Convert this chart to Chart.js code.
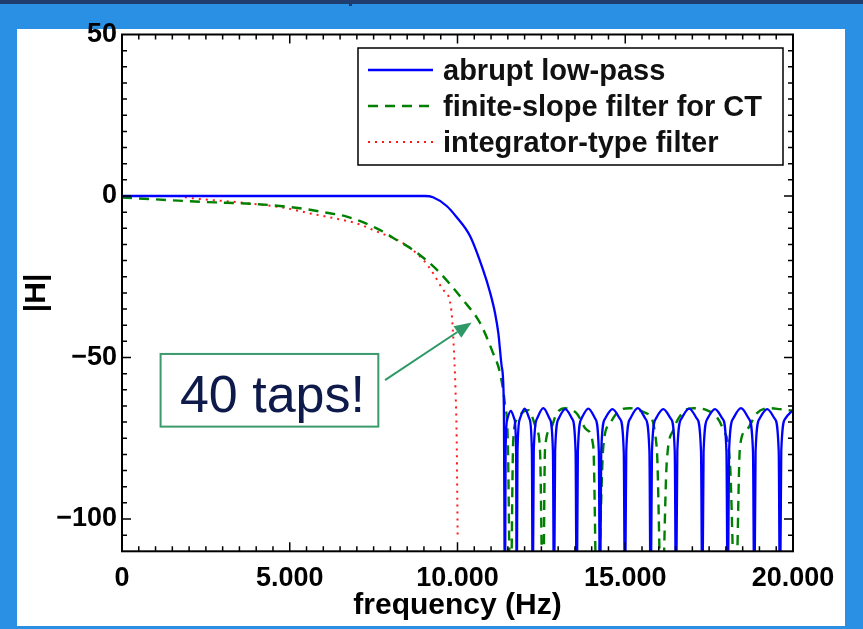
<!DOCTYPE html>
<html>
<head>
<meta charset="utf-8">
<title>|H| vs frequency</title>
<script src="https://cdn.jsdelivr.net/npm/chart.js@4.4.1/dist/chart.umd.min.js"></script>
<style>
  html, body { margin: 0; padding: 0; }
  body { width: 863px; height: 629px; background: #2990e3; position: relative; overflow: hidden; }
  #topbar { position: absolute; left: 0; top: 0; width: 863px; height: 4px; background: #1f3d6e; }
  #notch { position: absolute; left: 349px; top: 0; width: 3px; height: 6px; background: #1f3d6e; }
  #panel { position: absolute; left: 17px; top: 29px; width: 828px; height: 597px; background: #fff; }
  #plot { position: absolute; left: 0; top: 0; }
</style>
</head>
<body>
<div id="topbar"></div>
<div id="notch"></div>
<div id="panel"></div>
<canvas id="plot" width="863" height="629"></canvas>
<script>
// tick labels
const xTicks = [0, 5000, 10000, 15000, 20000];
const xTickLabels = ['0', '5.000', '10.000', '15.000', '20.000'];
const yTicks = [-100, -50, 0, 50];
const yTickLabels = ['\u2212100', '\u221250', '0', '50'];

// abrupt low-pass (Hz, dB), nulls go below the axis
const fAbrupt = [0, 9031, 9270, 9678, 9976, 10373, 10760, 10969, 11118, 11218, 11318, 11380, 11416,
  11433, 11486, 11590, 11694, 11747, 11764,
  11788, 11859, 12002, 12145, 12217, 12241,
  12273, 12368, 12558, 12749, 12844, 12876,
  12910, 13011, 13214, 13418, 13519, 13553,
  13588, 13692, 13900, 14108, 14212, 14247,
  14284, 14396, 14620, 14843, 14955, 14992,
  15030, 15145, 15375, 15605, 15720, 15758,
  15796, 15909, 16135, 16362, 16475, 16513,
  16552, 16670, 16905, 17140, 17258, 17297,
  17335, 17448, 17675, 17903, 18016, 18054,
  18094, 18213, 18450, 18688, 18807, 18847,
  18885, 19000, 19230, 19459, 19574, 19612,
  19650, 19765, 20000];
const hAbrupt = [0, 0, -0.4, -3.1, -6.6, -12.4, -22.8, -29.8, -36.2, -42.5, -52.8, -64, -130,
  -79, -69, -66.5, -69, -79, -130,
  -79, -69, -65.8, -69, -79, -130,
  -79, -69, -65.7, -69, -79, -130,
  -79, -69, -66, -69, -79, -130,
  -79, -69, -65.8, -69, -79, -130,
  -79, -69, -66, -69, -79, -130,
  -79, -69, -65.7, -69, -79, -130,
  -79, -69, -66, -69, -79, -130,
  -79, -69, -65.8, -69, -79, -130,
  -79, -69, -66, -69, -79, -130,
  -79, -69, -65.7, -69, -79, -130,
  -79, -69, -66, -69, -79, -130,
  -79, -69, -66.3];

// finite-slope filter for CT
const fFinite = [0, 933, 2325, 3121, 3815, 4510, 5305, 5952, 6697, 7592, 8188, 8674, 9389, 10164,
  10671, 11058, 11267, 11416, 11500, 11580, 11660, 11764, 12110, 12360, 12459, 12548, 12608,
  12757, 12956, 13204, 13553, 13851, 14048, 14157, 14346, 14545, 14843, 15141, 15639, 15937,
  16086, 16235, 16433, 16730, 17029, 17427, 17922, 18122, 18284, 18420, 18620, 18918, 19314,
  19612, 20000];
const hFinite = [-0.5, -1.0, -1.8, -2.1, -2.4, -2.9, -3.8, -4.9, -6.4, -10, -13.6, -16.7, -22.9, -32.2,
  -39.3, -48.6, -54.8, -64.7, -76, -130, -76, -69.3, -66.3, -72.4, -78.6, -130, -78.6,
  -72.4, -67.3, -65.7, -67.3, -72.4, -77.6, -130, -77.6, -70.4, -66.3, -65.7, -67.3, -77.6,
  -130, -82.8, -72.4, -66.8, -65.7, -66.3, -72.4, -82.8, -130, -77.6, -72.4, -67.3, -65.7,
  -66, -66.5];

// integrator-type filter
const fInteg = [0, 1630, 2027, 3607, 4909, 5604, 6289, 6996, 7592, 8376, 8981, 9279, 9568,
  9800, 9880, 9940, 9975, 9995, 10005];
const hInteg = [0, 0, -0.6, -2.1, -3.8, -5.4, -6.8, -8.5, -11, -14.6, -19.8, -24, -29,
  -34, -45, -60, -75, -95, -106];

const pts = (xs, ys) => xs.map((v, i) => ({ x: v, y: ys[i] }));

const FONT = '"Liberation Sans", Arial, Helvetica, sans-serif';

// inward ticks on all four sides + box frame
const boxTicks = {
  id: 'boxTicks',
  afterDraw(chart) {
    const { ctx, chartArea: a, scales: { x, y } } = chart;
    ctx.save();
    ctx.strokeStyle = '#000';
    ctx.lineWidth = 1.5;
    ctx.beginPath();
    for (let v = 500; v < 20000; v += 500) {
      const px = x.getPixelForValue(v);
      const len = v % 5000 === 0 ? 9 : 5;
      ctx.moveTo(px, a.bottom); ctx.lineTo(px, a.bottom - len);
      ctx.moveTo(px, a.top); ctx.lineTo(px, a.top + len);
    }
    for (let v = -105; v < 50; v += 5) {
      const py = y.getPixelForValue(v);
      const len = v % 50 === 0 ? 9 : 5;
      ctx.moveTo(a.left, py); ctx.lineTo(a.left + len, py);
      ctx.moveTo(a.right, py); ctx.lineTo(a.right - len, py);
    }
    ctx.stroke();
    ctx.lineWidth = 2;
    ctx.strokeRect(a.left, a.top, a.width, a.height);
    ctx.restore();
  }
};

// boxed legend in the top right corner
const boxLegend = {
  id: 'boxLegend',
  afterDraw(chart) {
    const { ctx, chartArea: a } = chart;
    const w = 425, h = 117;
    const left = a.right - 435, top = a.top + 13.5;
    ctx.save();
    ctx.fillStyle = '#fff';
    ctx.fillRect(left, top, w, h);
    ctx.strokeStyle = '#000';
    ctx.lineWidth = 1.5;
    ctx.strokeRect(left, top, w, h);
    ctx.font = 'bold 29px ' + FONT;
    ctx.textBaseline = 'alphabetic';
    chart.data.datasets.forEach((ds, i) => {
      const base = top + 32 + i * 36;
      ctx.strokeStyle = ds.borderColor;
      ctx.lineWidth = ds.borderWidth;
      ctx.setLineDash(ds.borderDash || []);
      ctx.beginPath();
      ctx.moveTo(left + 10, base - 10);
      ctx.lineTo(left + 75, base - 10);
      ctx.stroke();
      ctx.setLineDash([]);
      ctx.fillStyle = '#111';
      ctx.fillText(ds.label, left + 85, base);
    });
    ctx.restore();
  }
};

// "40 taps!" callout, placed in data units
const callout = {
  id: 'callout',
  afterDraw(chart) {
    const { ctx, scales: { x, y } } = chart;
    const bx0 = x.getPixelForValue(1150), bx1 = x.getPixelForValue(7640);
    const by0 = y.getPixelForValue(-48.9), by1 = y.getPixelForValue(-71.4);
    const tx = x.getPixelForValue(7840), ty = y.getPixelForValue(-57);
    const hx = x.getPixelForValue(10420), hy = y.getPixelForValue(-39.2);
    ctx.save();
    ctx.fillStyle = '#fff';
    ctx.fillRect(bx0, by0, bx1 - bx0, by1 - by0);
    ctx.strokeStyle = '#3a9a6c';
    ctx.lineWidth = 2;
    ctx.strokeRect(bx0, by0, bx1 - bx0, by1 - by0);
    ctx.fillStyle = '#0d1a4a';
    ctx.font = '52px ' + FONT;
    ctx.textAlign = 'center';
    ctx.textBaseline = 'alphabetic';
    ctx.fillText('40 taps!', (bx0 + bx1) / 2 + 3, by1 - 15);
    // arrow
    const ang = Math.atan2(hy - ty, hx - tx);
    const L = 17, W = 7;
    const bxp = hx - L * Math.cos(ang), byp = hy - L * Math.sin(ang);
    ctx.strokeStyle = '#2e9966';
    ctx.fillStyle = '#2e9966';
    ctx.lineWidth = 2;
    ctx.beginPath();
    ctx.moveTo(tx, ty);
    ctx.lineTo(bxp, byp);
    ctx.stroke();
    ctx.beginPath();
    ctx.moveTo(hx, hy);
    ctx.lineTo(bxp + W * Math.sin(ang), byp - W * Math.cos(ang));
    ctx.lineTo(bxp - W * Math.sin(ang), byp + W * Math.cos(ang));
    ctx.closePath();
    ctx.fill();
    ctx.restore();
  }
};

const tickFont = { family: FONT, size: 27, weight: 'bold' };
const titleFont = { family: FONT, size: 30, weight: 'bold' };

new Chart(document.getElementById('plot').getContext('2d'), {
  type: 'line',
  data: {
    datasets: [{
      label: 'abrupt low-pass',
      data: pts(fAbrupt, hAbrupt),
      borderColor: '#0000ff',
      borderWidth: 2.3
    }, {
      label: 'finite-slope filter for CT',
      data: pts(fFinite, hFinite),
      borderColor: '#008000',
      borderWidth: 2.4,
      borderDash: [10, 7]
    }, {
      label: 'integrator-type filter',
      data: pts(fInteg, hInteg),
      borderColor: '#ff1a1a',
      borderWidth: 2,
      borderDash: [2, 5]
    }]
  },
  options: {
    responsive: false,
    animation: false,
    devicePixelRatio: 1,
    layout: { padding: { top: 34.5, right: 70, left: 0, bottom: 0 } },
    elements: {
      point: { radius: 0 },
      line: { cubicInterpolationMode: 'monotone', fill: false }
    },
    plugins: {
      legend: { display: false },
      tooltip: { enabled: false }
    },
    scales: {
      x: {
        type: 'linear',
        min: 0,
        max: 20000,
        grid: { display: false, drawTicks: false },
        border: { display: false },
        afterBuildTicks: s => { s.ticks = xTicks.map(v => ({ value: v })); },
        afterFit: s => { s.height = 77.7; },
        ticks: {
          autoSkip: false,
          maxRotation: 0,
          padding: 11,
          color: '#000',
          font: tickFont,
          callback: (v, i) => xTickLabels[i]
        },
        title: {
          display: true,
          text: 'frequency (Hz)',
          color: '#000',
          font: titleFont,
          padding: { top: 0, bottom: 5 }
        }
      },
      y: {
        min: -110,
        max: 50,
        grid: { display: false, drawTicks: false },
        border: { display: false },
        afterBuildTicks: s => { s.ticks = yTicks.map(v => ({ value: v })); },
        afterFit: s => { s.width = 122; },
        ticks: {
          padding: 5,
          color: '#000',
          font: tickFont,
          callback: (v, i) => yTickLabels[i]
        },
        title: {
          display: true,
          text: '|H|',
          color: '#000',
          font: titleFont,
          padding: { top: 19, bottom: 0 }
        }
      }
    }
  },
  plugins: [boxTicks, boxLegend, callout]
});
</script>
</body>
</html>
